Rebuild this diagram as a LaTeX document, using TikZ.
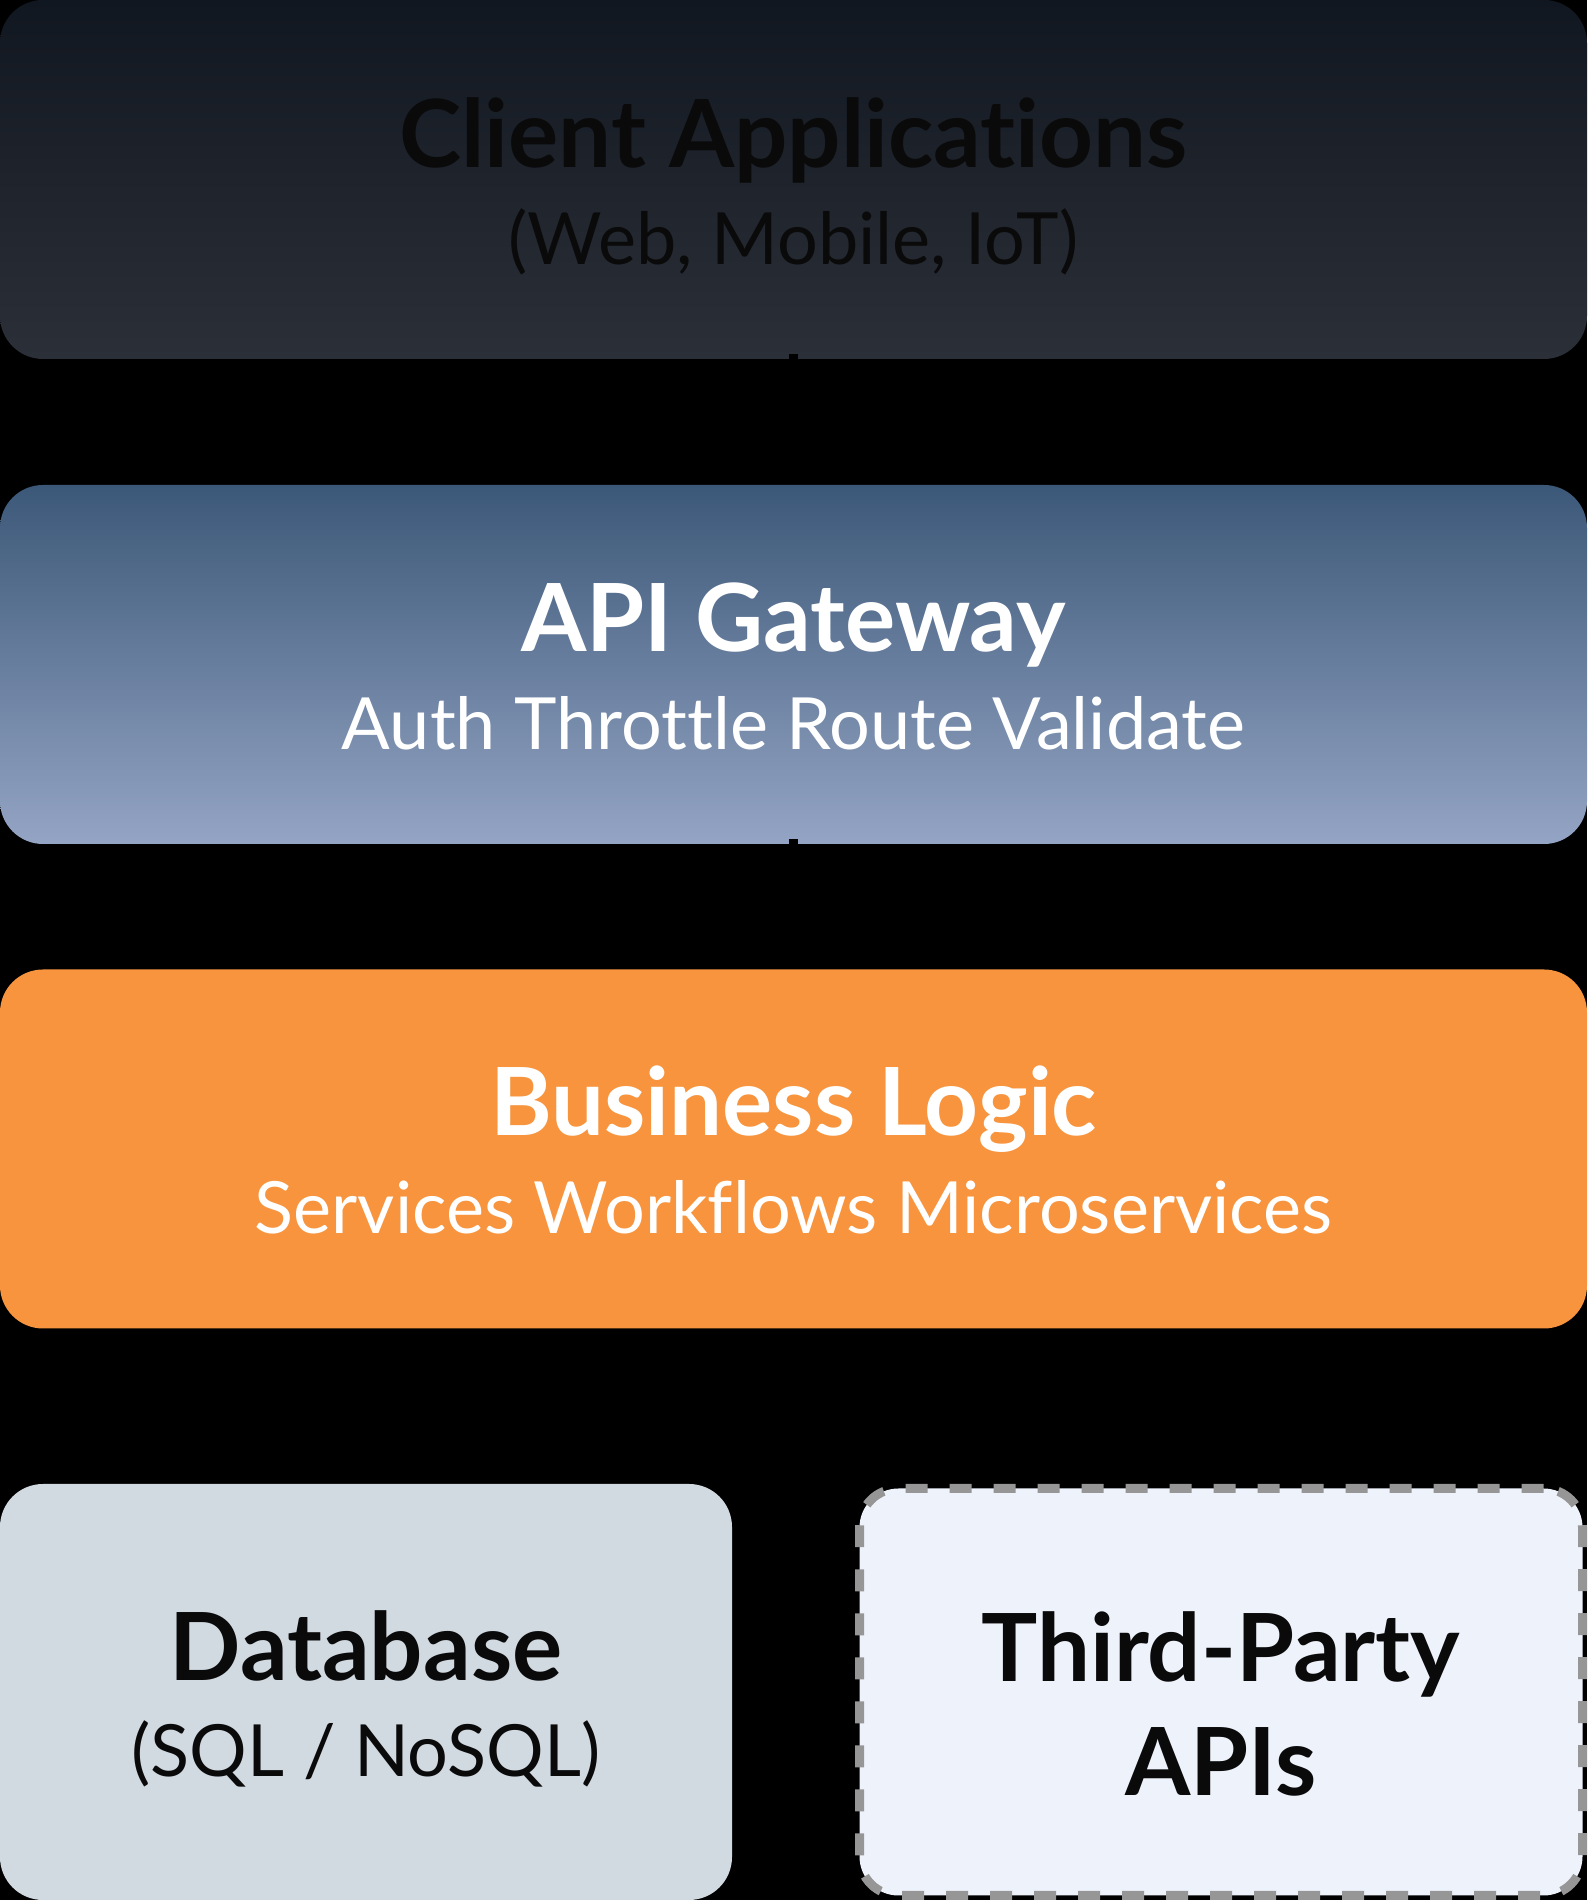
\documentclass[tikz,border=0pt]{standalone}
\usepackage{fontspec}
\setmainfont[Ligatures={NoCommon,NoRequired}]{Lato}
\usetikzlibrary{arrows.meta}
\definecolor{cTop}{HTML}{111720}
\definecolor{cBot}{HTML}{2B2F38}
\definecolor{gTop}{HTML}{3C5878}
\definecolor{gBot}{HTML}{94A4C4}
\definecolor{bizOr}{HTML}{F7943D}
\definecolor{dbFill}{HTML}{D1D9E1}
\definecolor{tpFill}{HTML}{EEF2FB}
\definecolor{tpLine}{HTML}{969696}
\definecolor{ink}{HTML}{0A0A0A}
\tikzset{
  layer/.style={rounded corners=43pt, minimum width=1587pt, minimum height=359pt, inner sep=0pt},
  half/.style={rounded corners=43pt, minimum width=732pt, minimum height=416pt, inner sep=0pt},
  ttl/.style={font=\fontsize{94}{100}\selectfont\bfseries, inner sep=0pt, anchor=center},
  sub/.style={font=\fontsize{72}{80}\selectfont, inner sep=0pt, anchor=center},
  conn/.style={line width=9pt, black, -{Stealth[length=20pt,width=30pt]}}
}
\begin{document}
\begin{tikzpicture}[x=1pt,y=1pt]
\useasboundingbox[fill=black] (0,0) rectangle (1587,1900);
% layer boxes
\node[layer, top color=cTop, bottom color=cBot] (client) at (793.5,1720.5) {};
\node[layer, top color=gTop, bottom color=gBot] (gateway) at (793.5,1235.5) {};
\node[layer, fill=bizOr] (biz) at (793.5,751) {};
\node[half, fill=dbFill] (db) at (366,208) {};
\node[half, minimum width=723pt, minimum height=407pt, rounded corners=39pt, fill=tpFill, draw=tpLine, line width=9pt, dash pattern=on 22pt off 22pt] (tp) at (1221,208) {};
% connectors
\draw[conn] ([yshift=5pt]client.south) -- ([yshift=30pt]gateway.north);
\draw[conn] ([yshift=5pt]gateway.south) -- ([yshift=30pt]biz.north);
% texts
\node[ttl, text=ink] (clientT) at (793.5,1760) {Client Applications};
\node[sub, text=ink] (clientS) at (793.5,1658) {(Web, Mobile, IoT)};
\node[ttl, text=white] (gatewayT) at (793.5,1275) {API Gateway};
\node[sub, text=white] (gatewayS) at (793.5,1177) {Auth Throttle Route Validate};
\node[ttl, text=white] (bizT) at (793.5,791) {Business Logic};
\node[sub, text=white] (bizS) at (793.5,693) {Services Workflows Microservices};
\node[ttl, text=ink] (dbT) at (366,254) {Database};
\node[sub, text=ink] (dbS) at (366,146) {(SQL / NoSQL)};
\node[ttl, text=ink] (tpT) at (1221,246) {Third-Party};
\node[ttl, text=ink] (tpT2) at (1221,138) {APIs};
\end{tikzpicture}
\end{document}
